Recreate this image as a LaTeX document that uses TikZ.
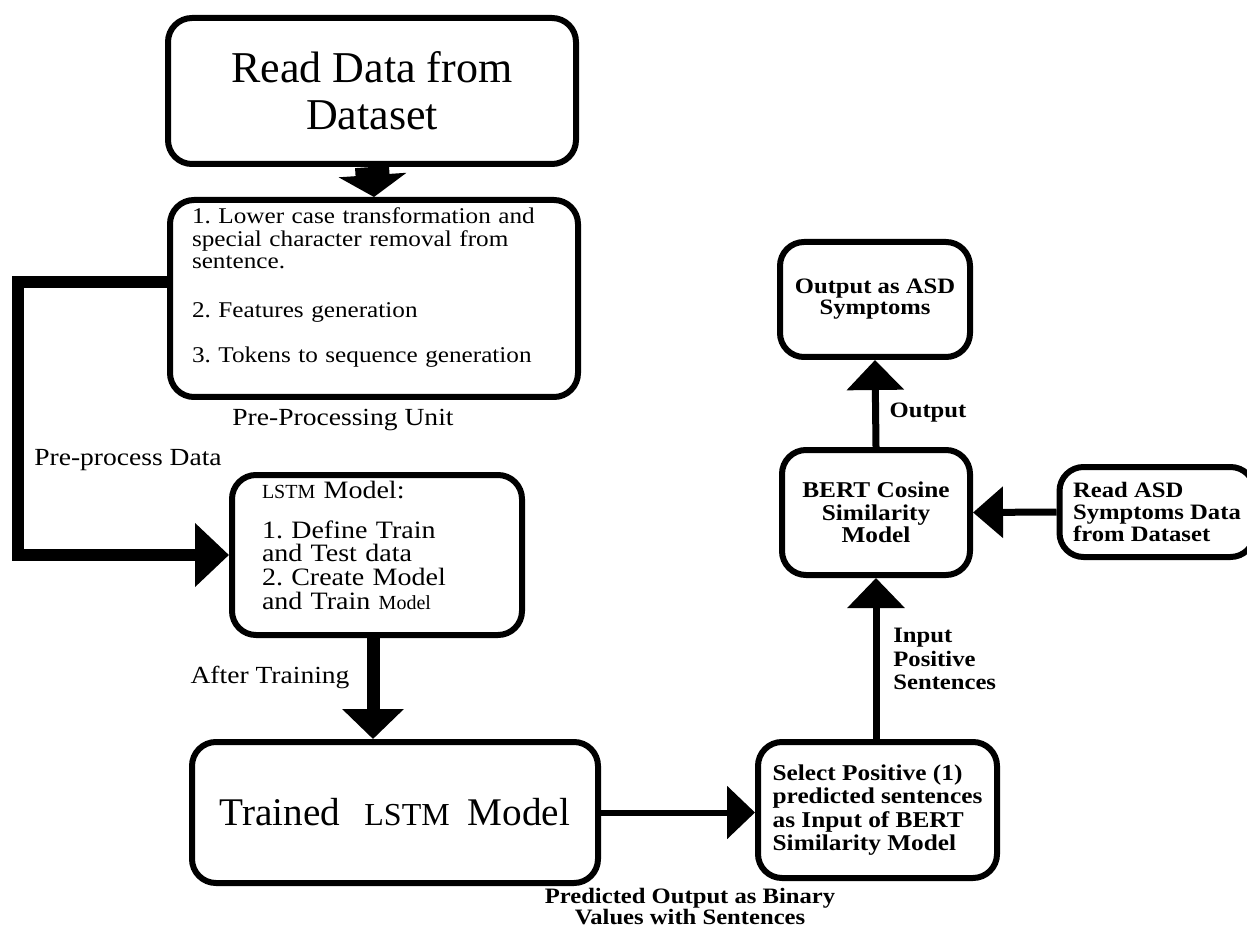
\documentclass[tikz,border=0pt]{standalone}
\usepackage{fontspec}
\setmainfont[FakeStretch=1.12]{Liberation Serif}
\newfontfamily\timesfont{Liberation Serif}
\usetikzlibrary{arrows.meta,positioning}
\frenchspacing

\tikzset{
  box/.style={draw,line width=3pt,rounded corners=12pt,inner sep=0pt,align=center},
  flow/.style n args={3}{line width=#1,-{Triangle[width=#2,length=#3]}},
  lbl/.style={inner sep=0pt,font=\fontsize{12.3}{13}\selectfont},
  blbl/.style={inner sep=0pt,align=center,font=\bfseries\fontsize{11}{10.5}\selectfont},
}

\begin{document}
\begin{tikzpicture}[x=0.5pt,y=-0.5pt]
\useasboundingbox (0,0) rectangle (1247,935);
% left column
\node[box,minimum width=204pt,minimum height=73pt,font=\timesfont\fontsize{22}{23.5}\selectfont] (read) at (372,91) {Read Data from\\Dataset};
\node[box,text width=182pt,inner xsep=11pt,minimum height=98.5pt,align=left,font=\fontsize{11.25}{11.25}\selectfont] (prep) at (374,298.5) {1. Lower case transformation and\\special character removal from\\sentence.\\[13pt]2. Features generation\\[11.5pt]3. Tokens to sequence generation\\[2pt]\mbox{}};
\node[lbl] (preplbl) at (343,420) {Pre-Processing Unit};
\node[lbl] (pplbl) at (128,460) {Pre-process Data};
\node[box,text width=115pt,inner xsep=15pt,minimum height=80pt,align=left,font=\fontsize{12.5}{11.8}\selectfont] (lstm) at (377,555) {{\timesfont\fontsize{10}{10}\selectfont LSTM} Model:\\[8pt]1. Define Train\\and Test data\\2. Create Model\\and Train{\timesfont\fontsize{10}{10}\selectfont\ Model}\\[-2pt]\mbox{}};
\node[lbl] (trainlbl) at (270,677) {After Training};
\node[box,minimum width=203pt,minimum height=70.5pt,font=\timesfont\fontsize{19.6}{20}\selectfont] (trained) at (395,812.5) {Trained\hspace{12pt}{\fontsize{16}{16}\selectfont LSTM}\hspace{9pt}Model};
% right column
\node[box,minimum width=119.5pt,minimum height=68pt,align=left,font=\bfseries\fontsize{11.3}{11.7}\selectfont] (select) at (877.5,810) {Select Positive (1)\\predicted sentences\\as Input of BERT\\Similarity Model};
\node[blbl] (predlbl) at (690,907) {Predicted Output as Binary\\Values with Sentences};
\node[blbl,align=left,anchor=west,font=\bfseries\fontsize{11}{11.75}\selectfont] (inlbl) at (893,659) {Input\\Positive\\Sentences};
\node[box,minimum width=94pt,minimum height=62.5pt,font=\bfseries\fontsize{11.3}{11.25}\selectfont] (bert) at (876,512.5) {BERT Cosine\\Similarity\\Model};
\node[box,minimum width=97.5pt,minimum height=45pt,align=left,font=\bfseries\fontsize{11}{10.8}\selectfont] (asd) at (1157,512) {Read ASD\\Symptoms Data\\from Dataset};
\node[blbl] (outlbl) at (928,413) {Output};
\node[box,minimum width=95pt,minimum height=57.5pt,font=\bfseries\fontsize{11}{10.5}\selectfont] (out) at (875,299.5) {Output as ASD\\Symptoms};
% connectors
\draw[flow={17pt}{33.5pt}{11pt}] (read.south) -- (prep.north);
\draw[flow={6pt}{31pt}{17pt}] (prep.west |- 0,282) -| (18,555) -- (lstm.west);
\draw[flow={6.5pt}{30pt}{15pt}] (373,0 |- lstm.south) -- (373,0 |- trained.north);
\draw[flow={3pt}{26pt}{14pt}] (trained.east) -- (trained.east -| select.west);
\draw[flow={3.5pt}{28pt}{15pt}] (bert.south |- select.north) -- (bert.south);
\draw[flow={3.5pt}{25pt}{15pt}] (asd.west) -- (bert.east);
\draw[flow={3.5pt}{28pt}{15pt}] (bert.north) -- (out.south);
\end{tikzpicture}
\end{document}
